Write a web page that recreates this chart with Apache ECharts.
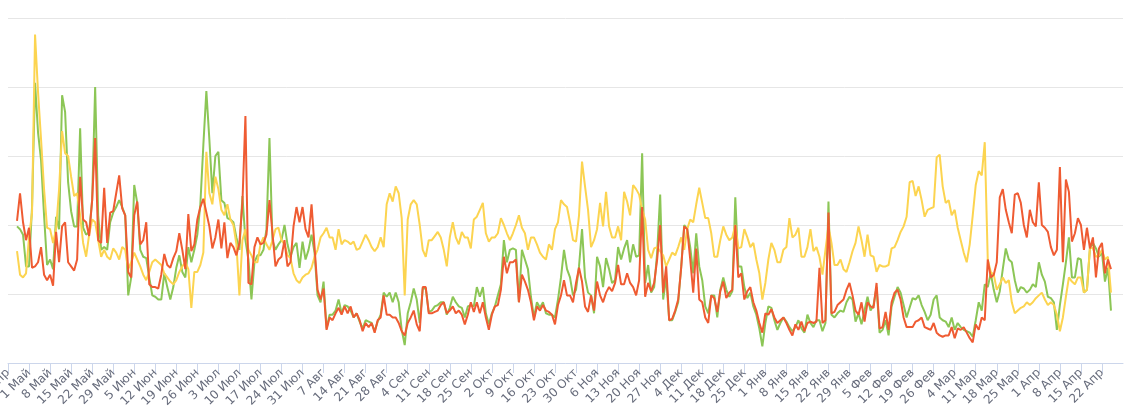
<!DOCTYPE html>
<html><head><meta charset="utf-8">
<script src="https://cdn.jsdelivr.net/npm/echarts@6/dist/echarts.min.js"></script>
<style>html,body{margin:0;padding:0;background:#fff}#c{width:1133px;height:416px}</style>
</head><body><div id="c"></div>
<script>
// Category axis: one category per day starting 24 Апр 2015
const startYear = 2015, startMonth = 3, startDay = 24;
const dayCount = 372;
const monthNames = ['Янв','Фев','Мар','Апр','Май','Июн','Июл','Авг','Сен','Окт','Ноя','Дек'];
const lastLabelIndex = 364;
const leadingEmptyDays = [null, null, null]; // data begins 27 Апр

const greenSeries = [
99,97,93,70,70,113,203,
167,147,107,71,75,68,106,97,194,182,
131,110,99,99,170,98,93,95,118,200,
107,82,84,82,102,109,113,118,113,107,
49,62,129,116,82,77,76,62,49,48,
46,46,65,55,46,55,69,78,66,62,
84,73,82,93,115,158,197,162,123,150,
153,118,116,105,104,102,91,82,121,89,
75,46,73,78,78,82,97,163,89,82,
86,89,100,86,77,84,87,69,88,75,
82,93,80,49,44,59,25,35,35,38,
46,36,42,41,38,33,36,30,25,31,
30,29,23,30,35,51,48,51,44,51,
44,24,13,36,44,54,46,29,54,54,
37,38,41,42,44,44,35,40,48,44,
41,40,33,41,42,41,55,48,55,36,
28,36,41,49,57,89,73,82,83,82,
44,82,75,68,48,33,44,40,44,36,
35,35,33,46,62,82,68,62,49,53,
70,97,62,51,49,36,77,70,55,76,
68,58,60,84,75,83,89,73,86,77,
78,152,58,71,51,55,80,122,46,62,
31,31,37,44,70,100,97,84,65,94,
70,60,41,36,49,49,33,53,62,53,
48,52,120,70,70,55,47,51,41,35,
25,12,29,41,40,31,24,29,33,30,
26,23,26,31,25,22,35,29,26,31,
31,23,29,117,35,33,36,38,37,44,
48,46,30,36,28,38,48,38,42,55,
22,24,31,20,41,48,55,51,42,33,
40,47,46,49,42,37,31,35,46,49,
33,31,30,26,33,24,29,26,24,23,
22,19,31,44,38,57,55,65,53,44,
52,68,83,75,73,60,51,55,54,51,
53,57,55,73,64,59,48,47,44,24,
42,57,73,91,62,62,76,75,51,53,
83,87,83,77,80,59,69,38
];

const redSeries = [
103,123,102,89,98,69,70,
73,84,64,60,64,56,95,73,99,102,
73,70,67,75,135,104,102,92,118,163,
89,87,127,87,109,110,123,136,112,107,
66,62,107,117,86,89,102,57,55,55,
54,64,79,71,69,76,81,94,82,68,
108,81,86,104,113,119,109,99,83,91,
104,83,102,76,87,84,78,87,116,179,
58,57,84,91,86,87,93,118,94,70,
75,77,89,70,73,99,113,102,113,97,
91,115,84,53,46,54,24,33,31,36,
40,35,41,36,41,33,36,31,23,29,
26,29,22,31,33,49,35,35,33,33,
29,23,20,29,33,38,28,23,55,55,
36,36,37,38,42,44,36,38,41,36,
38,35,28,35,44,37,44,36,44,33,
24,35,41,42,53,77,65,73,73,75,
44,64,59,53,44,31,41,38,42,38,
37,35,28,42,49,60,49,49,44,58,
69,59,41,37,49,38,59,49,44,51,
55,52,58,71,57,57,65,58,55,49,
60,113,48,58,52,58,75,100,51,70,
31,32,38,46,69,99,97,75,51,83,
46,44,33,29,49,47,37,52,59,47,
51,53,100,62,65,46,52,55,44,38,
29,22,36,35,39,33,29,31,33,29,
24,20,28,24,30,23,29,30,29,30,
69,29,31,109,36,37,42,44,46,53,
58,49,38,35,44,30,44,41,40,58,
25,26,37,24,44,51,53,46,33,26,
26,26,30,31,33,26,25,24,29,22,
20,19,20,20,26,18,25,24,26,22,
18,15,28,24,33,31,75,62,64,73,
120,126,111,102,94,122,123,116,100,91,
111,102,99,131,100,98,95,84,78,82,
142,73,133,124,88,94,105,100,82,98,
83,91,62,83,87,65,75,68
];

const yellowSeries = [
81,64,62,65,91,109,238,
196,162,126,98,97,87,97,126,168,152,
150,135,121,123,107,87,77,93,104,102,
89,77,82,77,75,83,80,75,84,82,
68,73,80,75,70,64,60,66,73,75,
73,71,65,62,59,57,60,66,70,73,
68,40,66,66,71,80,153,123,115,135,
126,111,107,115,104,100,86,49,89,97,
82,78,73,73,86,91,86,82,89,97,
98,89,86,78,76,65,60,58,62,64,
65,69,77,82,91,94,98,91,91,82,
97,86,89,88,86,88,82,83,88,93,
89,84,81,84,91,84,115,123,117,128,
123,105,49,104,115,118,115,100,82,77,
89,89,92,95,91,82,70,91,102,91,
86,95,91,91,83,104,106,111,116,94,
88,91,91,94,105,100,94,89,94,100,
107,98,94,82,91,91,86,80,77,75,
86,82,97,102,118,115,113,102,89,88,
107,146,128,111,84,89,97,116,99,124,
99,91,91,99,89,124,117,107,129,126,
122,111,104,82,76,83,84,81,78,70,
75,80,78,84,91,82,97,104,102,115,
127,116,105,105,94,77,77,89,99,93,
89,91,100,83,84,97,91,84,87,75,
65,46,58,75,87,82,73,73,82,84,
105,91,93,98,77,77,84,97,81,84,
77,64,82,99,87,71,71,75,68,66,
73,81,87,99,89,77,93,78,77,66,
71,70,70,71,83,84,89,95,99,106,
131,132,121,128,118,106,111,112,113,149,
151,128,116,118,107,111,98,89,80,73,
86,107,129,139,136,160,75,66,64,53,
57,62,58,60,44,36,38,40,41,44,
42,44,47,49,51,46,42,44,42,35,
23,33,48,62,59,57,62,62,51,53,
84,83,77,78,82,75,77,51
];

const yMin = 0, yMax = 250, yStep = 50;

const categories = [];
for (let i = 0; i < dayCount; i++) {
  const dt = new Date(Date.UTC(startYear, startMonth, startDay + i));
  categories.push(dt.getUTCDate() + ' ' + monthNames[dt.getUTCMonth()]);
}
const showTick = (idx) => idx % 7 === 0 && idx <= lastLabelIndex;

const chart = echarts.init(document.getElementById('c'), null, {renderer: 'canvas'});
chart.setOption({
  animation: false,
  backgroundColor: '#ffffff',
  grid: {left: 8, right: 10, top: 18, bottom: 53, containLabel: false, outerBoundsMode: 'none'},
  xAxis: {
    type: 'category',
    boundaryGap: false,
    data: categories,
    axisLine: {show: true, lineStyle: {color: '#ccd6eb', width: 1}},
    axisTick: {show: true, interval: showTick, length: 10, lineStyle: {color: '#ccd6eb'}},
    axisLabel: {interval: showTick, rotate: 45, margin: 8, color: '#666b7b', fontSize: 12,
      fontFamily: 'DejaVu Sans', hideOverlap: false},
    splitLine: {show: false}
  },
  yAxis: {
    type: 'value', min: yMin, max: yMax, interval: yStep,
    axisLabel: {show: false}, axisLine: {show: false}, axisTick: {show: false},
    splitLine: {show: true, lineStyle: {color: '#e6e6e6', width: 1}}
  },
  series: [
    {name: 'green', type: 'line', data: leadingEmptyDays.concat(greenSeries), symbol: 'none',
     lineStyle: {color: '#8cc656', width: 2}, itemStyle: {color: '#8cc656'}},
    {name: 'yellow', type: 'line', data: leadingEmptyDays.concat(yellowSeries), symbol: 'none',
     lineStyle: {color: '#fcd450', width: 2}, itemStyle: {color: '#fcd450'}},
    {name: 'red', type: 'line', data: leadingEmptyDays.concat(redSeries), symbol: 'none',
     lineStyle: {color: '#ef5b32', width: 2}, itemStyle: {color: '#ef5b32'}}
  ]
});
</script>
</body></html>
